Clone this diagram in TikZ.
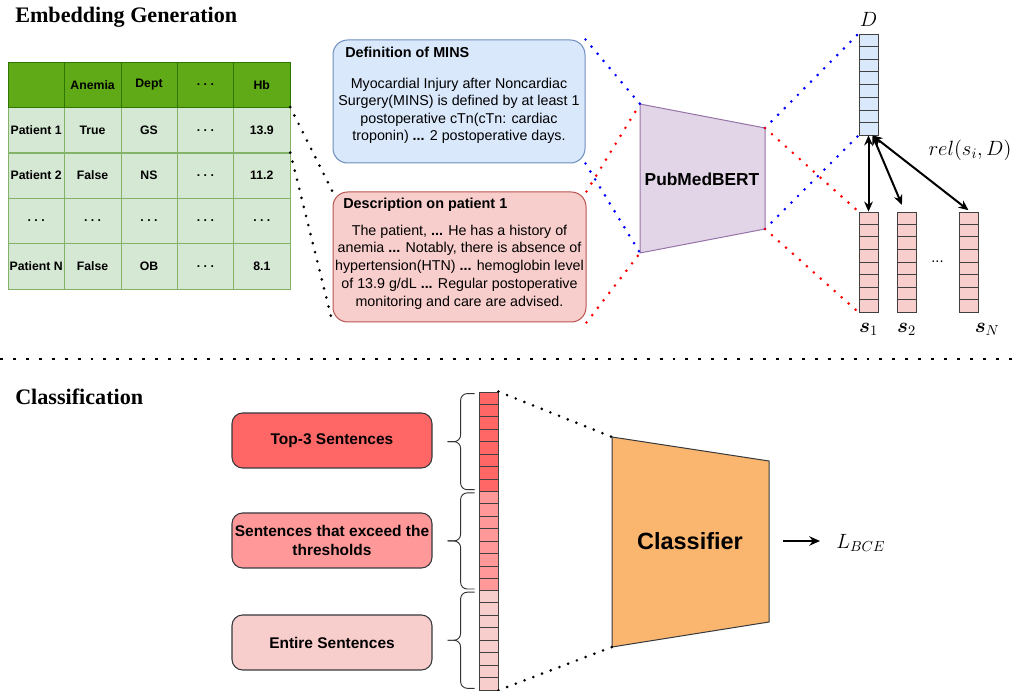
\documentclass[tikz,border=0pt]{standalone}
\usepackage{fix-cm}
\usepackage{amsmath}
\usepackage{fontspec}
\setmainfont{Liberation Sans}
\newfontfamily\titlefont{Liberation Serif}
\usepackage{tikz}
\usetikzlibrary{arrows.meta, positioning, calc}
\definecolor{tabhead}{RGB}{96,169,23}
\definecolor{tabheadline}{RGB}{45,118,0}
\definecolor{tabcell}{RGB}{213,232,212}
\definecolor{tabline}{RGB}{130,179,102}
\definecolor{defbg}{RGB}{218,232,252}
\definecolor{defline}{RGB}{108,142,191}
\definecolor{descbg}{RGB}{248,206,204}
\definecolor{descline}{RGB}{184,84,80}
\definecolor{bertbg}{RGB}{225,213,231}
\definecolor{bertline}{RGB}{150,115,166}
\definecolor{clsbg}{RGB}{250,181,110}
\definecolor{topred}{RGB}{255,102,102}
\definecolor{midred}{RGB}{255,153,153}
\definecolor{lowred}{RGB}{248,206,204}
\definecolor{boxline}{RGB}{54,57,61}

\begin{document}
\begin{tikzpicture}[x=0.75pt, y=-0.75pt,
    ttl/.style={anchor=west, inner sep=0, font=\titlefont\bfseries\fontsize{16.6}{20}\selectfont},
    hcell/.style={draw=tabheadline, fill=tabhead, minimum width=42.3pt, minimum height=34pt, inner sep=0, font=\bfseries\fontsize{9.2}{11}\selectfont},
    cell/.style={hcell, draw=tabline, fill=tabcell},
    tbox/.style={rounded corners=11pt, line width=0.75pt},
    tttl/.style={anchor=west, inner sep=0, font=\bfseries\fontsize{10.8}{13}\selectfont},
    ttxt/.style={align=center, inner sep=0, font=\fontsize{10.7}{13.1}\selectfont},
    vec/.style={draw=black!75, line width=0.6pt, minimum width=14.25pt, inner sep=0},
    mlbl/.style={inner sep=0, font=\fontsize{15.5}{18}\selectfont},
    dotline/.style={line width=2.2pt, line cap=round, dash pattern=on 0pt off 7pt},
    dbl/.style={{Stealth[length=7.5pt, width=6.5pt]}-{Stealth[length=7.5pt, width=6.5pt]}, line width=1.5pt},
    selbox/.style={draw=boxline, line width=0.8pt, rounded corners=8pt, minimum width=150pt, minimum height=41.25pt, inner sep=1pt, align=center, font=\bfseries\fontsize{11.6}{14.2}\selectfont},
    brc/.style={draw=black!80, line width=0.7pt, rounded corners=5pt},
    arr/.style={-{Stealth[length=8pt, width=7pt]}, line width=1.5pt}]

\useasboundingbox (0,0) rectangle (1015,691);

% section titles
\node[ttl] (embttl) at (15,17) {Embedding Generation};
\node[ttl] (clsttl) at (15,397) {Classification};
\draw[line width=2.2pt, dash pattern=on 2.2pt off 7.5pt] (0,359) -- (1015,359);

% patient table, header last
\foreach \r/\sty/\a/\b/\c/\d/\e in {1/cell/Patient 1/True/GS/.~.~./13.9, 2/cell/Patient 2/False/NS/.~.~./11.2, 3/cell/.~.~./.~.~./.~.~./.~.~./.~.~., 4/cell/Patient N/False/OB/.~.~./8.1, 0/hcell/{}/Anemia/Dept/.~.~./Hb}
  \foreach \t [count=\k from 0] in {\a,\b,\c,\d,\e}
    \node[\sty] (tab-\r-\k) at (36.2+56.4*\k, 84.7+45.4*\r) {\t};

% text boxes
\node[tbox, draw=defline, fill=defbg, minimum width=189pt, minimum height=92.25pt] (defn) at (459,101.5) {};
\node[tttl] (defttl) at (345,52) {Definition of MINS};
\node[ttxt] (deftxt) at (459,111) {Myocardial Injury after Noncardiac\\Surgery(MINS) is defined by at least 1\\postoperative cTn(cTn: cardiac\\troponin) \textbf{...} 2 postoperative days.};

\node[tbox, draw=descline, fill=descbg, minimum width=189.75pt, minimum height=97.5pt] (desc) at (459.5,257) {};
\node[tttl] (descttl) at (343,205) {Description on patient 1};
\node[ttxt, font=\fontsize{10.7}{13.3}\selectfont] (desctxt) at (459.5,267) {The patient, \textbf{...} He has a history of\\anemia \textbf{...} Notably, there is absence of\\hypertension(HTN) \textbf{...} hemoglobin level\\of 13.9 g/dL \textbf{...} Regular postoperative\\monitoring and care are advised.};

% encoder
\coordinate (b1) at (640,104); \coordinate (b2) at (765,128);
\coordinate (b3) at (765,229); \coordinate (b4) at (640,253);
\draw[draw=bertline, fill=bertbg, line width=0.75pt] (b1) -- (b2) -- (b3) -- (b4) -- cycle;
\node[font=\bfseries\fontsize{13}{15}\selectfont] (bert) at (702,179) {PubMedBERT};

% embedding vectors
\node[vec, fill=defbg, minimum height=75.75pt] (vD) at (868.5,84.5) {};
\node[vec, fill=descbg, minimum height=75pt] (vS1) at (868.5,262) {};
\node[vec, fill=descbg, minimum height=75pt] (vS2) at (906.5,262) {};
\node[vec, fill=descbg, minimum height=75pt] (vSN) at (968.5,262) {};

\node[mlbl, above=5pt of vD] (lblD) {$D$};
\node[mlbl, below=8pt of vS1] (lblS1) {$\boldsymbol{s}_1$};
\node[mlbl, below=8pt of vS2] (lblS2) {$\boldsymbol{s}_2$};
\node[mlbl, below=8pt of vSN, xshift=14pt] (lblSN) {$\boldsymbol{s}_N$};
\node[font=\fontsize{11}{13}\selectfont] (sdots) at ($(vS2)!0.5!(vSN)$) {...};
\node[mlbl] (rel) at (970,150) {$rel(s_i,D)$};

\draw[dbl] (vD.south) -- (vS1.north);
\draw[dbl] ([xshift=3pt]vD.south) -- ([xshift=-3.4pt,yshift=5pt]vS2.north);
\draw[dbl] ([xshift=3pt]vD.south) -- ([yshift=1pt]vSN.north);

% dotted links
\draw[dotline] (tab-1-4.north east) -- (desc.north west);
\draw[dotline] (tab-2-4.north east) -- (desc.south west);
\draw[dotline, blue] (defn.north east) -- (b1);
\draw[dotline, blue] (defn.south east) -- (b4);
\draw[dotline, red] (desc.north east) -- (b1);
\draw[dotline, red] (desc.south east) -- (b4);
\draw[dotline, blue] (b2) -- (vD.north west);
\draw[dotline, blue] (b3) -- (vD.south west);
\draw[dotline, red] (b2) -- (vS1.north west);
\draw[dotline, red] (b3) -- (vS1.south west);

% classification part
\node[selbox, fill=topred] (top3) at (332,440.5) {Top-3 Sentences};
\node[selbox, fill=midred] (exceed) at (332,540.5) {Sentences that exceed the\\thresholds};
\node[selbox, fill=lowred] (entire) at (332,642.5) {Entire Sentences};

\node[vec, fill=topred, minimum height=74.5pt] (vT) at (488.5,441.65) {};
\node[vec, fill=midred, minimum height=74.5pt] (vE) at (488.5,540.95) {};
\node[vec, fill=lowred, minimum height=74.5pt] (vA) at (488.5,640.25) {};

\foreach \v in {vD,vS1,vS2,vSN,vT,vE,vA}
  \foreach \i in {1,...,7}
    \draw[black!75, line width=0.6pt] ($(\v.north west)!\i/8!(\v.south west)$) -- ($(\v.north east)!\i/8!(\v.south east)$);

\foreach \v in {vT,vE,vA} {
  \draw[brc] ([xshift=-3pt,yshift=-1.5pt]\v.north west) -- ++(-10.5pt,0) |- ([xshift=-23.25pt]\v.west);
  \draw[brc] ([xshift=-3pt,yshift=1.5pt]\v.south west) -- ++(-10.5pt,0) |- ([xshift=-23.25pt]\v.west);
}

\coordinate (c1) at (612,437); \coordinate (c2) at (769,461);
\coordinate (c3) at (769,622); \coordinate (c4) at (612,647);
\draw[draw=boxline, fill=clsbg, line width=0.75pt] (c1) -- (c2) -- (c3) -- (c4) -- cycle;
\node[font=\bfseries\fontsize{17.6}{20}\selectfont] (cls) at (690,541) {Classifier};
\draw[dotline] (vT.north east) -- (c1);
\draw[dotline] (vA.south east) -- (c4);

\coordinate (cout) at (783,541);
\node[mlbl, anchor=west] (loss) at (836,543) {$L_{BCE}$};
\draw[arr, shorten >=12pt] (cout) -- (cout -| loss.west);
\end{tikzpicture}
\end{document}
